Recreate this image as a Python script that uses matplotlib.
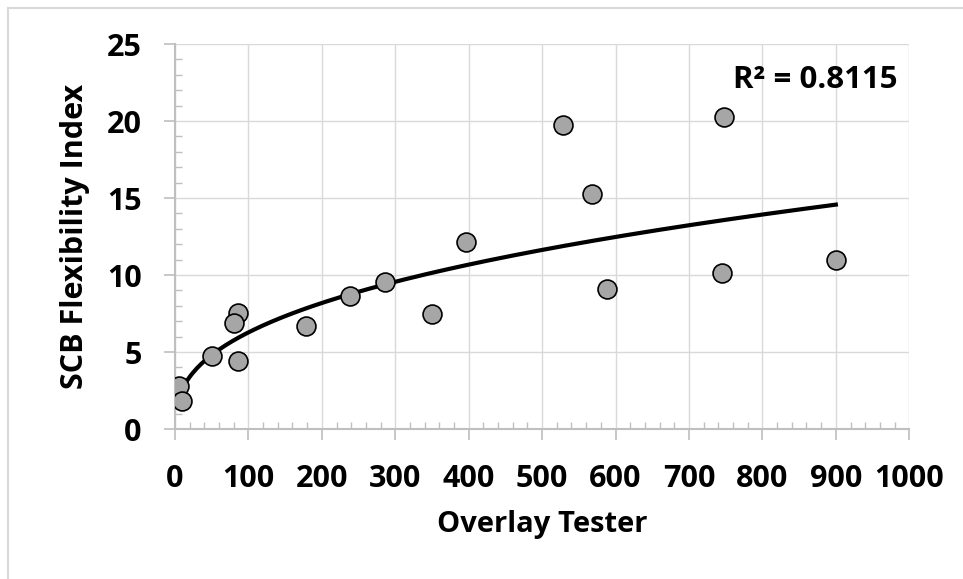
import matplotlib

matplotlib.use("Agg")
import matplotlib.pyplot as plt
import numpy as np
from matplotlib.lines import Line2D
from matplotlib.ticker import MultipleLocator

# Overlay Tester cycles vs SCB flexibility index
ot_cycles = [6, 9, 50, 86, 80, 86, 178, 238, 286, 350, 396, 528, 568, 589, 748, 745, 900]
scb_fi = [2.8, 1.8, 4.75, 7.55, 6.9, 4.45, 6.7, 8.65, 9.55, 7.45, 12.15, 19.75, 15.25, 9.1, 20.25, 10.15, 11.0]
r2_label = "R² = 0.8115"

FONT = "Open Sans"
GRID = "#d9d9d9"
AXIS = "#bfbfbf"

x = np.array(ot_cycles, dtype=float)
y = np.array(scb_fi, dtype=float)

# power trendline y = a * x^b, fitted in log space
b, loga = np.polyfit(np.log(x), np.log(y), 1)
xf = np.linspace(x.min(), x.max(), 300)
yf = np.exp(loga) * xf ** b

fig = plt.figure(figsize=(9.63, 5.79), dpi=100)
ax = fig.add_axes([0.1817, 0.259, 0.7625, 0.665])

ax.plot(xf, yf, color="black", linewidth=3.0, zorder=3)
ax.scatter(x, y, s=185, facecolor="#a6a6a6", edgecolor="black", linewidth=1.2, zorder=4)

ax.set_xlim(0, 1000)
ax.set_ylim(0, 25)
ax.xaxis.set_major_locator(MultipleLocator(100))
ax.xaxis.set_minor_locator(MultipleLocator(20))
ax.yaxis.set_major_locator(MultipleLocator(5))
ax.yaxis.set_minor_locator(MultipleLocator(1))

ax.grid(True, which="major", color=GRID, linewidth=1.0, zorder=0)
ax.set_axisbelow(True)
for side in ("top", "right"):
    ax.spines[side].set_visible(False)
for side in ("left", "bottom"):
    ax.spines[side].set_color(AXIS)
    ax.spines[side].set_linewidth(1.5)

ax.tick_params(axis="x", which="major", direction="out", length=8, width=1.2, color=AXIS, pad=17)
ax.tick_params(axis="x", which="minor", direction="in", length=5, width=1.0, color=AXIS)
ax.tick_params(axis="y", which="major", direction="out", length=8, width=1.2, color=AXIS, pad=16)
ax.tick_params(axis="y", which="minor", direction="in", length=5, width=1.0, color=AXIS)

for lab in ax.get_xticklabels() + ax.get_yticklabels():
    lab.set_fontfamily(FONT)
    lab.set_fontweight("bold")
    lab.set_fontsize(22)

ax.set_xlabel("Overlay Tester", fontfamily=FONT, fontweight="bold", fontsize=21, labelpad=12)
ax.set_ylabel("SCB Flexibility Index", fontfamily=FONT, fontweight="bold", fontsize=22, labelpad=12)

ax.text(0.984, 0.945, r2_label, transform=ax.transAxes, ha="right", va="top",
        fontfamily=FONT, fontweight="bold", fontsize=22.5)

# chart area frame (left and top edges)
W, H = 963, 579
fig.add_artist(Line2D([8 / W, 1], [1 - 8 / H, 1 - 8 / H], color=GRID, linewidth=1.5,
                      transform=fig.transFigure))
fig.add_artist(Line2D([8 / W, 8 / W], [0, 1 - 8 / H], color=GRID, linewidth=1.5,
                      transform=fig.transFigure))

fig.savefig("out.png", dpi=100)
